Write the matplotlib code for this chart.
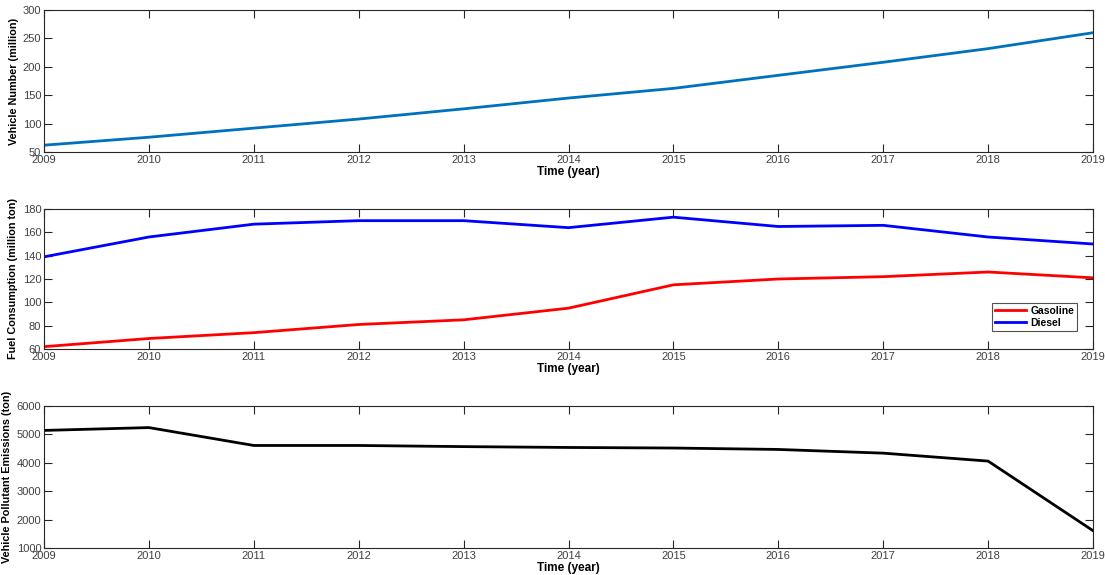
import matplotlib
matplotlib.use('Agg')
import matplotlib.pyplot as plt

# Données
years = [2009, 2010, 2011, 2012, 2013, 2014, 2015, 2016, 2017, 2018, 2019]
vehicles = [62, 76, 92, 108, 126, 145, 162, 185, 208, 232, 260]
gasoline = [62, 69, 74, 81, 85, 95, 115, 120, 122, 126, 121]
diesel = [139, 156, 167, 170, 170, 164, 173, 165, 166, 156, 150]
emissions = [5140, 5240, 4610, 4610, 4570, 4540, 4520, 4470, 4340, 4060, 1610]

plt.rcParams['font.family'] = ['Liberation Sans', 'DejaVu Sans']

fig = plt.figure(figsize=(11.05, 5.75), dpi=100)
W, H = 1105, 575

def make_axes(top, bottom):
    return fig.add_axes([44 / W, 1 - bottom / H, (1093 - 44) / W, (bottom - top) / H])

def style(ax, ylabel, ylim, yticks):
    ax.set_xlim(2009, 2019)
    ax.set_xticks(years)
    ax.set_ylim(*ylim)
    ax.set_yticks(yticks)
    ax.tick_params(direction='in', top=True, right=True, length=6, width=0.8,
                   labelsize=8, colors='#262626', labelcolor='#404040', pad=2)
    for s in ax.spines.values():
        s.set_color('#262626')
        s.set_linewidth(0.8)
    ax.set_xlabel('Time (year)', fontsize=8.5, fontweight='bold', labelpad=1)
    ax.set_ylabel(ylabel, fontsize=7.8, fontweight='bold', labelpad=3)

ax1 = make_axes(10, 152)
ax1.plot(years, vehicles, color='#0072BD', lw=2)
style(ax1, 'Vehicle Number (million)', (50, 300), range(50, 301, 50))

ax2 = make_axes(209, 349)
ax2.plot(years, gasoline, color='red', lw=2, label='Gasoline')
ax2.plot(years, diesel, color='blue', lw=2, label='Diesel')
style(ax2, 'Fuel Consumption (million ton)', (60, 180), range(60, 181, 20))
leg = ax2.legend(loc='lower right', bbox_to_anchor=(0.985, 0.129), borderaxespad=0,
                 fontsize=7.5, frameon=True, fancybox=False, edgecolor='#262626',
                 handlelength=3.0, borderpad=0.3, labelspacing=0.2, handletextpad=0.4)
leg.get_frame().set_linewidth(0.8)
for t in leg.get_texts():
    t.set_fontweight('bold')

ax3 = make_axes(406, 548)
ax3.plot(years, emissions, color='black', lw=2)
style(ax3, 'Vehicle Pollutant Emissions (ton)', (1000, 6000), range(1000, 6001, 1000))

fig.savefig('out.png', dpi=100)
